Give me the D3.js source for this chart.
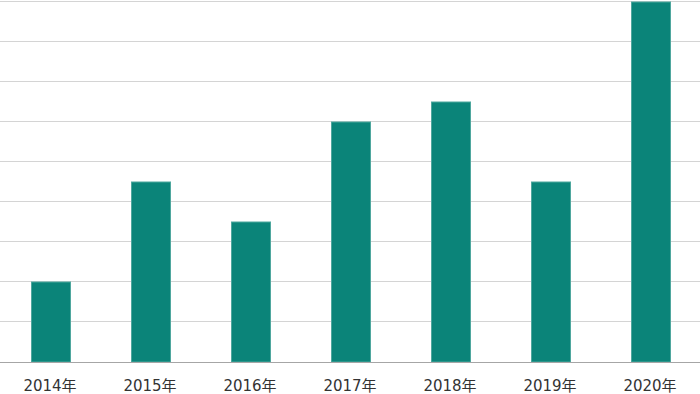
<!DOCTYPE html>
<html>
<head>
<meta charset="utf-8">
<script src="https://cdn.jsdelivr.net/npm/d3@7"></script>
<style>
  body { margin: 0; background: #fff; }
</style>
</head>
<body>
<div id="outer"></div>
<script>
// DATA //
const years = ['2014年', '2015年', '2016年', '2017年', '2018年', '2019年', '2020年'];
const values = [2, 4.5, 3.5, 6, 6.5, 4.5, 9];
const gridTicks = [1, 2, 3, 4, 5, 6, 7, 8, 9];

// SIZING //
const width = 700, height = 394;
const margin = {top: 2, left: 0, right: 0, bottom: 32};

const svg = d3.select('#outer').append('svg')
	.attr('width', width)
	.attr('height', height);

const x = d3.scaleBand()
	.domain(years)
	.range([margin.left, width - margin.right])
	.paddingInner(0.6)
	.paddingOuter(0.3);

const y = d3.scaleLinear()
	.domain([0, 9])
	.range([height - margin.bottom, margin.top]);

// GRID //
svg.append('g')
	.selectAll('line')
	.data(gridTicks)
	.join('line')
	.attr('x1', 0)
	.attr('x2', width)
	.attr('y1', d => Math.round(y(d)) - 0.5)
	.attr('y2', d => Math.round(y(d)) - 0.5)
	.attr('stroke', '#d4d4d4')
	.attr('stroke-width', 1);

// BARS //
svg.append('g')
	.selectAll('rect')
	.data(values)
	.join('rect')
	.attr('x', (d, i) => x(years[i]) + 1.5)
	.attr('y', d => y(d))
	.attr('width', x.bandwidth() - 1)
	.attr('height', d => y(0) - y(d))
	.attr('fill', '#0b8479')
	.attr('stroke', '#4fa79e')
	.attr('stroke-width', 1);

// BASELINE //
svg.append('line')
	.attr('x1', 0)
	.attr('x2', width)
	.attr('y1', y(0) + 0.5)
	.attr('y2', y(0) + 0.5)
	.attr('stroke', '#a6a6a6')
	.attr('stroke-width', 1);

// X AXIS LABELS //
svg.append('g')
	.selectAll('text')
	.data(years)
	.join('text')
	.attr('x', d => x(d) + x.bandwidth() / 2)
	.attr('y', 391)
	.attr('text-anchor', 'middle')
	.attr('font-family', '"DejaVu Sans", "Noto Sans CJK JP", sans-serif')
	.attr('font-size', 15)
	.attr('fill', '#333')
	.text(d => d);
</script>
</body>
</html>
